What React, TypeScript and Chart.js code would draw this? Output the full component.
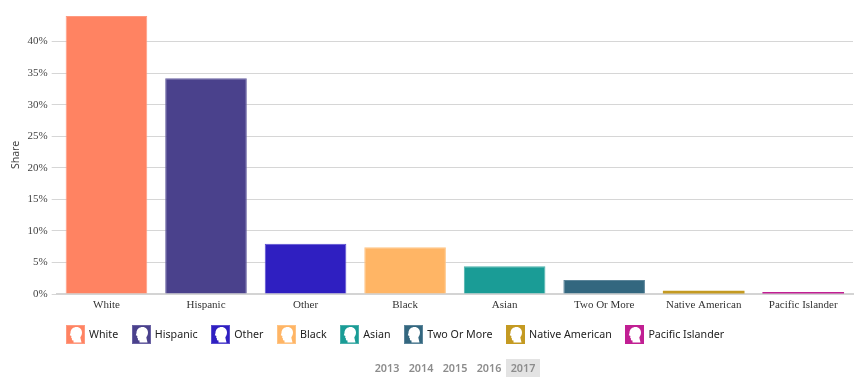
import React, { useEffect, useRef } from "react";
import { Chart, registerables } from "chart.js";

Chart.register(...registerables);

const categories = ["White", "Hispanic", "Other", "Black", "Asian", "Two Or More", "Native American", "Pacific Islander"];
const shares = [44.05, 34.2, 7.95, 7.4, 4.4, 2.2, 0.5, 0.3];
const colors = ["#FF8362", "#4A418C", "#2F1FC1", "#FFB565", "#1A9C96", "#33677F", "#C49A22", "#C11F93"];
const borders = ["#FF9A80", "#6A62A3", "#5A4DCF", "#FFC484", "#4AB0AB", "#5C859A", "#C49A22", "#C11F93"];
const barBorderWidths = [1, 1, 1, 1, 1, 1, 0, 0];
const years = ["2013", "2014", "2015", "2016", "2017"];
const activeYear = "2017";

function Head({ color, border }: { color: string; border: string }) {
  return (
    <svg width={19} height={19} viewBox="0 0 19 19" style={{ display: "block", flex: "none" }}>
      <rect x={0.5} y={0.5} width={18} height={18} fill={color} stroke={border} />
      <path
        d="M4.5 8 C4.5 4 7.5 2 10.5 2 C14 2 16 4.5 16 7.5 C16 10 14.8 11 14.3 12.5 L15.5 17.5 L7.5 17.5 L7.5 15.5 L6 15.2 L5.8 13 L5 12.5 L5.5 11 L3.8 10.3 Z"
        fill="#fff"
      />
    </svg>
  );
}

export default function App() {
  const ref = useRef<HTMLCanvasElement>(null);
  useEffect(() => {
    const chart = new Chart(ref.current!, {
      type: "bar",
      data: {
        labels: categories,
        datasets: [
          {
            label: "Share",
            data: shares,
            backgroundColor: colors,
            borderColor: borders,
            borderWidth: barBorderWidths,
            barPercentage: 0.82,
            categoryPercentage: 1,
          },
        ],
      },
      options: {
        animation: false,
        responsive: false,
        layout: { padding: { top: 16, right: 4, left: 0, bottom: 0 } },
        plugins: { legend: { display: false }, tooltip: { enabled: false } },
        scales: {
          x: {
            grid: { display: false, drawTicks: false },
            border: { color: "#d4d4d4", width: 2 },
            ticks: {
              color: "#333",
              padding: 5,
              maxRotation: 0,
              autoSkip: false,
              font: { family: "'Liberation Serif'", size: 11 },
            },
            afterFit: (s: any) => {
              s.height = 89;
            },
          },
          y: {
            min: 0,
            max: 44.05,
            grid: { color: "#d6d6d6", lineWidth: 1, tickLength: 5 },
            border: { display: false },
            title: {
              display: true,
              text: "Share",
              color: "#444",
              padding: { top: 10, bottom: 0 },
              font: { family: "'Noto Sans'", size: 10.5 },
            },
            ticks: {
              stepSize: 5,
              includeBounds: false,
              color: "#444",
              padding: 4,
              callback: (v: any) => v + "%",
              font: { family: "'Liberation Serif'", size: 11 },
            },
            afterFit: (s: any) => {
              s.width = 56.7;
            },
          },
        },
      },
    });
    return () => chart.destroy();
  }, []);

  return (
    <div style={{ position: "absolute", left: 0, top: 0, width: 857, height: 383, overflow: "hidden", fontFamily: "'Noto Sans', sans-serif" }}>
      <canvas ref={ref} width={857} height={383} style={{ position: "absolute", left: 0, top: 0 }} />
      <div style={{ position: "absolute", left: 66, top: 325, display: "flex", alignItems: "center", gap: 13.6, height: 19 }}>
        {categories.map((c, i) => (
          <div key={c} style={{ display: "flex", alignItems: "center", gap: 4, fontSize: 10.7, color: "#222", whiteSpace: "nowrap" }}>
            <Head color={colors[i]} border={borders[i]} />
            <span style={{ position: "relative", top: -0.5 }}>{c}</span>
          </div>
        ))}
      </div>
      <div style={{ position: "absolute", left: 370, top: 359, display: "flex", height: 18 }}>
        {years.map((y) => (
          <div
            key={y}
            style={{
              width: 34,
              height: 18,
              lineHeight: "17px",
              textAlign: "center",
              fontSize: 10.8,
              fontWeight: 600,
              color: "#8c8c8c",
              background: y === activeYear ? "#e3e3e3" : "transparent",
            }}
          >
            {y}
          </div>
        ))}
      </div>
    </div>
  );
}
